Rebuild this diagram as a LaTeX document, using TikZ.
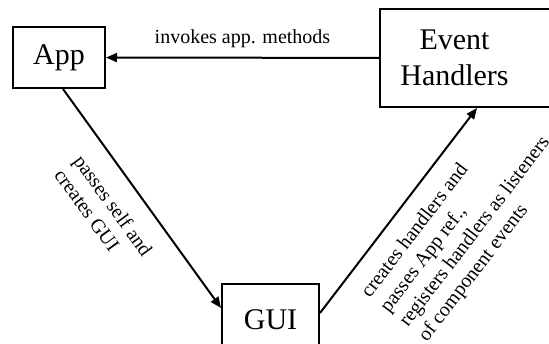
\documentclass[tikz,border=0pt]{standalone}
\usepackage{fontspec}
\setmainfont{Liberation Serif}
\usetikzlibrary{positioning,arrows.meta}

\begin{document}
\begin{tikzpicture}[
    x=1pt, y=-1pt,
    box/.style={
        draw,
        rectangle,
        line width=2pt,
        inner sep=0pt,
        align=center,
        font=\fontsize{30}{36}\selectfont
    },
    arrow/.style={
        -{Triangle[length=11pt,width=9pt]},
        line width=2pt
    },
    lbl/.style={
        inner sep=2pt,
        align=left,
        font=\fontsize{20}{24}\selectfont
    }
]

\useasboundingbox (0,0) rectangle (549,343);

\node[box, minimum width=92pt, minimum height=61pt] (app) at (59,57.5) {App};
\node[box, anchor=west, text width=175pt, minimum height=98pt, align=left] (eh) at (379,58) {\makebox[149pt]{Event}\\\makebox[149pt]{Handlers}};
\node[box, minimum width=97pt, minimum height=72pt] (gui) at (270.5,320) {GUI};

\draw[arrow] (eh) -- (app) node[lbl, midway, above=7pt] {invokes app. methods};
\draw[arrow] ([xshift=4pt]app.south) -- ([yshift=12pt]gui.west)
    node[lbl, pos=0.227, sloped, below right=17pt and 0pt] {passes self and\\creates GUI};
\draw[arrow] ([yshift=7pt]gui.east) -- ([xshift=9.5pt]eh.south)
    node[lbl, pos=0.15, sloped, below right=14pt and 0pt] {creates handlers and\\passes App ref.,\\registers handlers as listeners\\of component events};

\end{tikzpicture}
\end{document}
